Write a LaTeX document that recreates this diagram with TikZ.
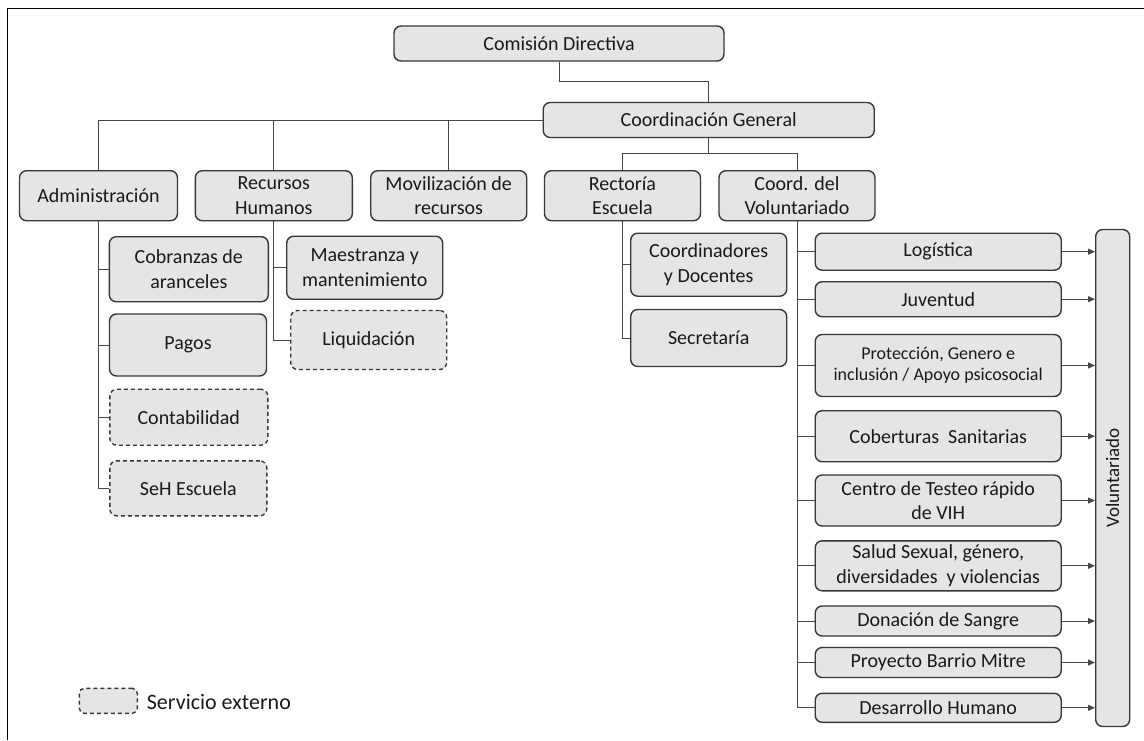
\documentclass[tikz,border=0pt]{standalone}
\usepackage{fontspec}
\setmainfont{Carlito}
\usetikzlibrary{arrows.meta}
\definecolor{boxfill}{RGB}{229,229,229}
\definecolor{boxline}{RGB}{55,55,55}
\definecolor{conn}{RGB}{70,70,70}
\definecolor{txt}{RGB}{25,25,25}
\tikzset{
  orgbox/.style={draw=boxline, line width=1.4pt, fill=boxfill, rounded corners=7pt,
    inner sep=0pt, align=center, text=txt, font=\fontsize{20}{24.5}\selectfont},
  extbox/.style={orgbox, dash pattern=on 4pt off 3pt},
  smalltxt/.style={font=\fontsize{18}{21}\selectfont},
  link/.style={draw=conn, line width=1pt},
  arr/.style={link, -{Triangle[length=7pt,width=6pt]}},
  frameline/.style={draw=black, line width=1.5pt}
}
\begin{document}
\begin{tikzpicture}[x=1pt,y=-1pt]
\useasboundingbox (0,0) rectangle (1144,740);
% frame
\coordinate (fbl) at (7.3,740);
\coordinate (ftl) at (7.3,8.7);
\coordinate (ftr) at (1144,8.7);
\draw[frameline] (fbl) -- (ftl) -- (ftr);

% top levels
\node[orgbox, minimum width=330, minimum height=35] (com) at (559,43.5) {Comisión Directiva};
\node[orgbox, minimum width=331, minimum height=35] (cg) at (708.7,120) {Coordinación\ General};

% level 2
\node[orgbox, minimum width=158, minimum height=50] (adm) at (98.5,195.7) {Administración};
\node[orgbox, minimum width=157, minimum height=50] (rh) at (273.8,195.7) {Recursos\\Humanos};
\node[orgbox, minimum width=156, minimum height=50] (mov) at (448.7,195.7) {Movilización de\\recursos};
\node[orgbox, minimum width=156, minimum height=50] (rec) at (622.5,195.7) {Rectoría\\Escuela};
\node[orgbox, minimum width=156, minimum height=50] (cv) at (797,195.7) {Coord. del\\Voluntariado};

% administracion children
\node[orgbox, minimum width=159, minimum height=65] (cob) at (188.8,269.2) {Cobranzas de\\aranceles};
\node[orgbox, minimum width=157, minimum height=62] (pag) at (188,345) {Pagos};
\node[extbox, minimum width=158, minimum height=56] (cont) at (188.8,417.2) {Contabilidad};
\node[extbox, minimum width=157, minimum height=55] (seh) at (188.3,488.3) {SeH Escuela};

% RRHH children
\node[orgbox, minimum width=156, minimum height=63] (mae) at (364.7,267.7) {Maestranza y\\mantenimiento};
\node[extbox, minimum width=156, minimum height=59] (liq) at (368.7,340) {Liquidación};

% Rectoria children
\node[orgbox, minimum width=156, minimum height=63] (cyd) at (708.7,264.7) {Coordinadores\\y Docentes};
\node[orgbox, minimum width=156, minimum height=57] (sec) at (708.7,338) {Secretaría};

% Voluntariado children
\node[orgbox, minimum width=246, minimum height=37] (log) at (938.2,251.7) {Logística};
\node[orgbox, minimum width=246, minimum height=35] (juv) at (938.2,299.2) {Juventud};
\node[orgbox, smalltxt, minimum width=246, minimum height=62] (pro) at (938.2,365.5) {Protección, Genero e\\inclusión / Apoyo psicosocial};
\node[orgbox, minimum width=246, minimum height=51] (cobs) at (938.2,436.2) {Coberturas\ \ Sanitarias};
\node[orgbox, minimum width=246, minimum height=51] (cen) at (938.2,500.5) {Centro de Testeo rápido\\de VIH};
\node[orgbox, minimum width=246, minimum height=50] (sal) at (938.2,565.8) {Salud Sexual, género,\\diversidades\ \ y violencias};
\node[orgbox, minimum width=246, minimum height=30] (don) at (938.2,621) {Donación de Sangre};
\node[orgbox, minimum width=246, minimum height=30] (pry) at (938.2,662.5) {Proyecto Barrio Mitre};
\node[orgbox, minimum width=246, minimum height=29] (des) at (938.2,707.8) {Desarrollo Humano};

\node[orgbox, font=\fontsize{19}{22}\selectfont, rotate=90, minimum width=497, minimum height=34] (vol) at (1112.7,478) {Voluntariado};

% legend
\node[extbox, rounded corners=5pt, minimum width=58, minimum height=25] (leg) at (108.3,700.8) {};
\node[anchor=west, inner sep=0pt, text=txt, font=\fontsize{22}{26}\selectfont] (legt) at (146.7,701.7) {Servicio externo};

% connectors top
\coordinate (cj) at (0,81);
\draw[link] (com.south) -- (com.south |- cj) -| (cg.north);
\draw[link] (cg.west) -| (adm.north);
\draw[link] (rh.north) -- (rh.north |- cg.west);
\draw[link] (mov.north) -- (mov.north |- cg.west);
\coordinate (cj2) at (0,153.3);
\draw[link] (cg.south) -- (cg.south |- cj2);
\draw[link] (rec.north) |- (cg.south |- cj2) -| (cv.north);

% administracion
\draw[link] (adm.south) |- (seh.west);
\draw[link] (cob.west) -- (cob.west -| adm.south);
\draw[link] (pag.west) -- (pag.west -| adm.south);
\draw[link] (cont.west) -- (cont.west -| adm.south);

% RRHH
\draw[link] (rh.south) |- (liq.west);
\draw[link] (mae.west) -- (mae.west -| rh.south);

% Rectoria
\draw[link] (rec.south) |- (sec.west);
\draw[link] (cyd.west) -- (cyd.west -| rec.south);

% Voluntariado
\draw[link] (cv.south) |- (des.west);
\foreach \n in {log,juv,pro,cobs,cen,sal,don,pry}
  \draw[link] (\n.west) -- (\n.west -| cv.south);
\foreach \n in {log,juv,pro,cobs,cen,sal,don,pry,des}
  \draw[arr] (\n.east) -- (\n.east -| vol.north);
\end{tikzpicture}
\end{document}
